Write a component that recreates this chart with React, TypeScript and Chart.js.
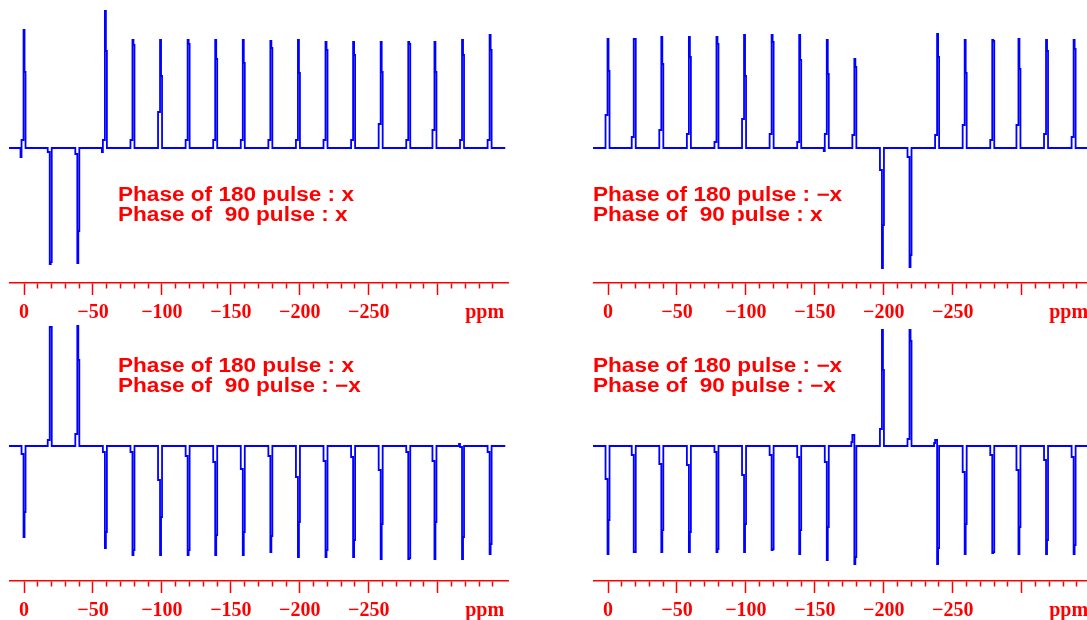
import React, { useEffect, useRef } from 'react';
import { Chart, registerables } from 'chart.js';

Chart.register(...registerables);

const BLUE = '#0000ff';
const RED = '#ff0000';

// x axis (ppm), reversed: +10.9 at left, -351.7 at right
const X_MAX = 10.9;
const X_MIN = -351.7;
const SPEC_END = -349;
const axisTickValues = [0, -10, -20, -30, -40, -50, -60, -70, -80, -90, -100, -110, -120, -130, -140, -150, -160, -170, -180, -190, -200, -210, -220, -230, -240, -250, -260, -270, -280, -290, -300, -310, -320, -330, -340];
const majorTickValues = [0, -50, -100, -150, -200, -250, -300];
const labelledTicks = [0, -50, -100, -150, -200, -250];
const unitLabelPpm = -334;
const unitLabel = 'ppm';

// peak positions (ppm), shared by the four spectra
const peakPpm = [0, -19, -39, -59, -79, -99, -119, -139, -159, -179, -199, -219, -239, -259, -279, -298, -318, -338];

// panel 1: 180 pulse x, 90 pulse x
const tlTops = [118, -116, -115, 137, 108, 108, 108, 108, 108, 107, 108, 106, 106, 106, 106, 106, 108, 113];
const tlShoulders = [76, -114, -83, 97, 103, 72, 104, 89, 85, 100, 75, 98, 93, 76, 104, 76, 93, 98];
const tlFeet = [8, -4, -6, 8, 8, 36, 8, 8, 8, 8, 8, 8, 8, 24, 8, 18, 8, 8];
const tlLobes = [-9, 0, 0, -4, 0, 0, 0, 0, 0, 0, 0, 0, 0, 0, 0, 0, 0, 0];

// panel 2: 180 pulse -x, 90 pulse x
const trTops = [109, 109, 111, 111, 111, 113, 113, 113, 108, 89, -120, -119, 114, 108, 108, 109, 108, 108];
const trShoulders = [77, 109, 84, 91, 104, 72, 106, 88, 74, 81, -77, -107, 91, 75, 107, 79, 97, 99];
const trFeet = [33, 11, 18, 14, 6, 29, 14, 6, 14, 13, -22, -9, 13, 23, 8, 23, 14, 11];
const trLobes = [0, 0, 0, 0, 0, 0, 0, 0, -3, 0, 0, 0, 0, 0, 0, 0, 0, 0];

// panel 3: 180 pulse x, 90 pulse -x
const blTops = [-91, 119, 120, -102, -109, -109, -109, -109, -109, -106, -111, -111, -111, -113, -113, -113, -113, -108];
const blShoulders = [-66, 119, 86, -86, -104, -71, -104, -89, -86, -90, -76, -104, -94, -78, -112, -76, -91, -98];
const blFeet = [-8, 6, 12, -6, -6, -34, -10, -16, -23, -10, -31, -15, -11, -24, -6, -15, -1, -6];
const blLobes = [0, 0, 0, 0, 0, 0, 0, 0, 0, 0, 0, 0, 0, 0, 0, 0, 2, 0];

// panel 4: 180 pulse -x, 90 pulse -x
const brTops = [-108, -106, -106, -106, -106, -106, -104, -108, -114, -118, 116, 116, -118, -108, -107, -108, -108, -108];
const brShoulders = [-74, -106, -84, -86, -103, -78, -103, -84, -81, -111, 76, 105, -102, -78, -106, -81, -94, -99];
const brFeet = [-33, -9, -18, -19, -6, -29, -9, -11, -16, 11, 17, 7, 6, -26, -9, -24, -14, -11];
const brLobes = [0, 0, 0, 0, 0, 0, 0, 0, 0, 4, 0, 0, 3, 0, 0, 0, 0, 0];

const phase180 = ['x', '\u2212x', 'x', '\u2212x'];
const phase90 = ['x', 'x', '\u2212x', '\u2212x'];

type Pt = { x: number; y: number };

function buildSpectrum(tops: number[], shoulders: number[], feet: number[], lobes: number[]): Pt[] {
  const pts: Pt[] = [{ x: X_MAX, y: 0 }];
  peakPpm.forEach((p, i) => {
    pts.push({ x: p + 2.9, y: 0 });
    pts.push({ x: p + 2.18, y: lobes[i] });
    pts.push({ x: p + 1.45, y: feet[i] });
    pts.push({ x: p + 0.73, y: feet[i] });
    pts.push({ x: p, y: tops[i] });
    pts.push({ x: p - 0.73, y: shoulders[i] });
    pts.push({ x: p - 1.45, y: 0 });
  });
  pts.push({ x: SPEC_END, y: 0 });
  return pts;
}

const panels = [
  { left: 9, top: 0, textLeft: 117.5, textTop: 184, data: buildSpectrum(tlTops, tlShoulders, tlFeet, tlLobes) },
  { left: 593, top: 0, textLeft: 593, textTop: 184, data: buildSpectrum(trTops, trShoulders, trFeet, trLobes) },
  { left: 9, top: 298, textLeft: 117.5, textTop: 355, data: buildSpectrum(blTops, blShoulders, blFeet, blLobes) },
  { left: 593, top: 298, textLeft: 593, textTop: 355, data: buildSpectrum(brTops, brShoulders, brFeet, brLobes) },
];

const CANVAS_W = 500;
const CANVAS_H = 323;

function tickKind(v: number): 'major' | 'minor' | 'hidden' {
  if (majorTickValues.includes(v)) return 'major';
  if (axisTickValues.includes(v)) return 'minor';
  return 'hidden';
}

function Panel({ data, left, top }: { data: Pt[]; left: number; top: number }) {
  const ref = useRef<HTMLCanvasElement>(null);
  useEffect(() => {
    const chart = new Chart(ref.current as HTMLCanvasElement, {
      type: 'line',
      data: {
        datasets: [
          {
            data,
            borderColor: BLUE,
            borderWidth: 1.8,
            pointRadius: 0,
            fill: false,
            stepped: 'middle',
            tension: 0,
          },
        ],
      },
      options: {
        responsive: false,
        maintainAspectRatio: false,
        animation: false,
        events: [],
        layout: { padding: 0 },
        plugins: {
          legend: { display: false },
          tooltip: { enabled: false },
          title: { display: false },
        },
        scales: {
          x: {
            type: 'linear',
            position: 'bottom',
            reverse: true,
            min: X_MIN,
            max: X_MAX,
            bounds: 'data',
            afterBuildTicks: (scale: any) => {
              scale.ticks = [X_MAX, ...axisTickValues, unitLabelPpm, X_MIN].map((v) => ({ value: v }));
            },
            afterFit: (scale: any) => {
              scale.height = 40;
              scale.paddingLeft = 0;
              scale.paddingRight = 0;
            },
            border: { display: true, color: RED, width: 1.5 },
            grid: {
              display: true,
              drawOnChartArea: false,
              drawTicks: true,
              tickLength: 12,
              tickWidth: 1.5,
              tickColor: (ctx: any) => (tickKind(ctx.tick ? ctx.tick.value : NaN) === 'hidden' ? 'rgba(0,0,0,0)' : RED),
              tickBorderDash: (ctx: any) => (tickKind(ctx.tick ? ctx.tick.value : NaN) === 'minor' ? [5, 40] : []),
            },
            ticks: {
              autoSkip: false,
              maxRotation: 0,
              minRotation: 0,
              padding: 5.5,
              color: RED,
              font: { family: '"Liberation Serif", "Times New Roman", serif', size: 20, weight: 'bold' },
              callback: (value: any) => {
                const v = Number(value);
                if (labelledTicks.includes(v)) return v === 0 ? '0' : '\u2212' + Math.abs(v);
                if (v === unitLabelPpm) return unitLabel;
                return '';
              },
            },
          },
          y: { display: false, min: -135, max: 148 },
        },
      } as any,
    });
    return () => chart.destroy();
  }, [data]);
  return (
    <canvas
      ref={ref}
      width={CANVAS_W}
      height={CANVAS_H}
      style={{ position: 'absolute', left, top, width: CANVAS_W, height: CANVAS_H }}
    />
  );
}

const textStyle: React.CSSProperties = {
  position: 'absolute',
  fontFamily: '"Liberation Sans", Arial, Helvetica, sans-serif',
  fontWeight: 'bold',
  fontSize: 19.5,
  lineHeight: '20px',
  color: RED,
  whiteSpace: 'pre',
  transform: 'scaleX(1.158)',
  transformOrigin: '0 0',
};

export default function App() {
  return (
    <div
      style={{
        position: 'fixed',
        left: 0,
        top: 0,
        width: 1087,
        height: 620,
        overflow: 'hidden',
        background: '#ffffff',
      }}
    >
      {panels.map((p, i) => (
        <Panel key={'c' + i} data={p.data} left={p.left} top={p.top} />
      ))}
      {panels.map((p, i) => (
        <div key={'t' + i} style={{ ...textStyle, left: p.textLeft, top: p.textTop }}>
          {`Phase of 180 pulse : ${phase180[i]}\nPhase of  90 pulse : ${phase90[i]}`}
        </div>
      ))}
    </div>
  );
}
